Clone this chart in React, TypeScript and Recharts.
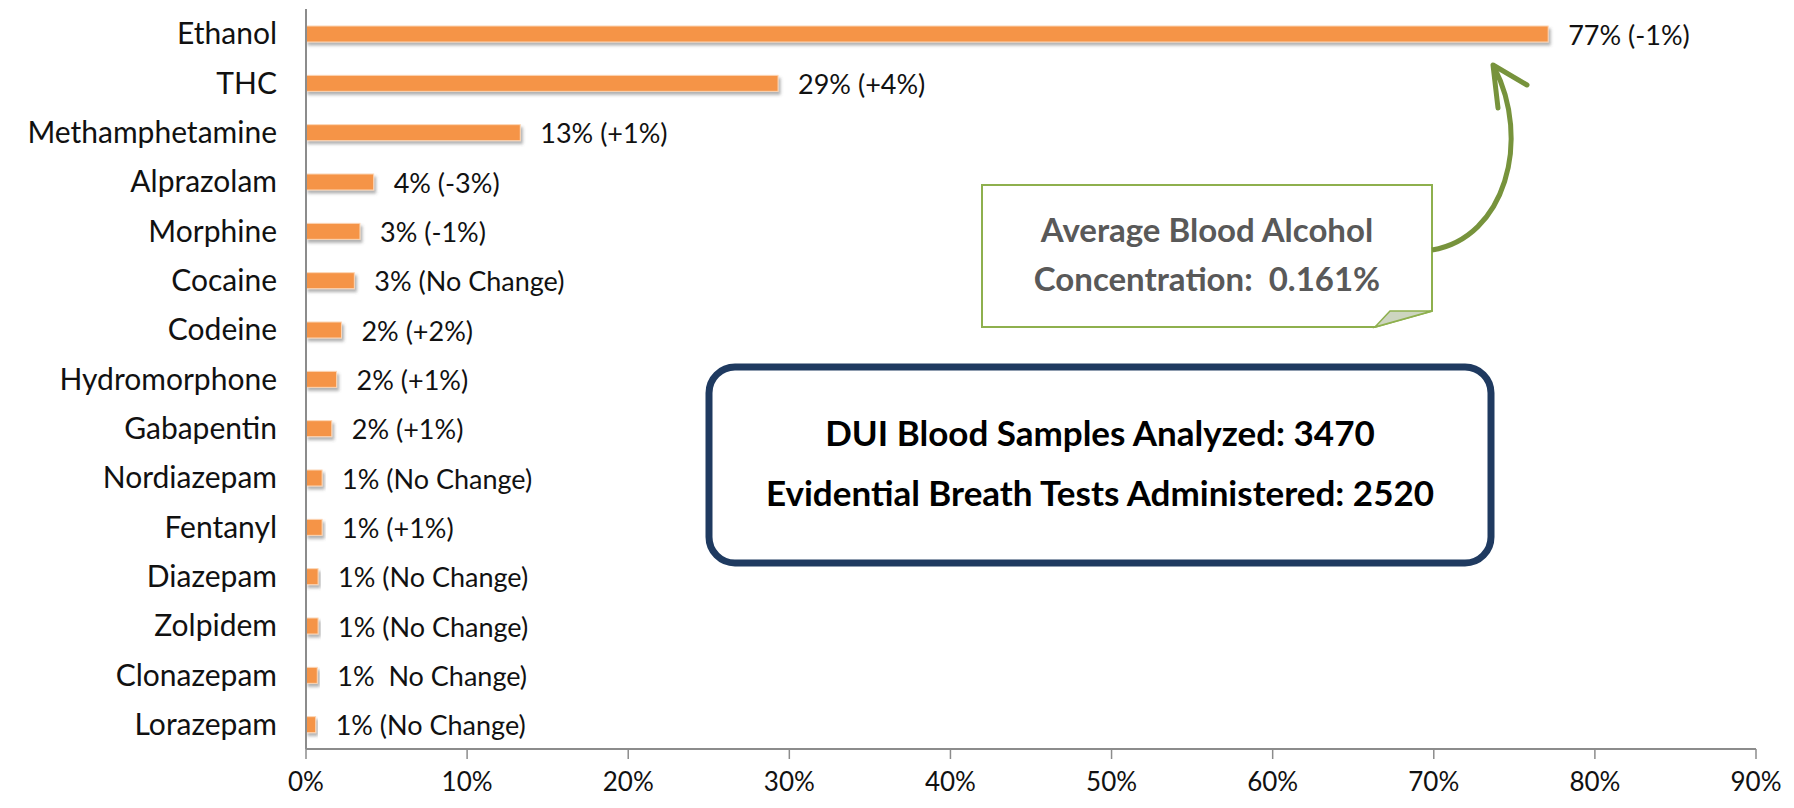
import { BarChart, Bar, XAxis, YAxis, LabelList } from 'recharts';

const drugs = [
  'Ethanol', 'THC', 'Methamphetamine', 'Alprazolam', 'Morphine', 'Cocaine', 'Codeine',
  'Hydromorphone', 'Gabapentin', 'Nordiazepam', 'Fentanyl', 'Diazepam', 'Zolpidem',
  'Clonazepam', 'Lorazepam',
];
const percents = [77.1, 29.3, 13.3, 4.2, 3.35, 3.0, 2.2, 1.9, 1.6, 1.0, 1.0, 0.75, 0.75, 0.7, 0.6];
const valueLabels = [
  '77% (-1%)', '29% (+4%)', '13% (+1%)', '4% (-3%)', '3% (-1%)', '3% (No Change)', '2% (+2%)',
  '2% (+1%)', '2% (+1%)', '1% (No Change)', '1% (+1%)', '1% (No Change)', '1% (No Change)',
  '1%  No Change)', '1% (No Change)',
];
const xTicks = [0, 10, 20, 30, 40, 50, 60, 70, 80, 90];

const data = drugs.map((name, i) => ({ name, pct: percents[i], label: valueLabels[i] }));

const FONT = 'Lato, "Open Sans", sans-serif';

export default function App() {
  return (
    <div style={{ position: 'absolute', left: 0, top: 0, width: 1794, height: 808, background: '#fff', fontFamily: FONT }}>
      <svg width={0} height={0} style={{ position: 'absolute' }}>
        <defs>
          <filter id="barShadow" x="-10%" y="-30%" width="130%" height="190%">
            <feDropShadow dx="2" dy="3" stdDeviation="1.6" floodColor="#555" floodOpacity="0.45" />
          </filter>
        </defs>
      </svg>
      <BarChart
        width={1794}
        height={808}
        data={data}
        layout="vertical"
        margin={{ top: 9, right: 38, bottom: 0, left: 0 }}
      >
        <XAxis
          type="number"
          domain={[0, 90]}
          ticks={xTicks}
          tickFormatter={(v: number) => `${v}%`}
          axisLine={{ stroke: '#8c8c8c', strokeWidth: 2 }}
          tickLine={{ stroke: '#8c8c8c', strokeWidth: 1.5 }}
          tickSize={10}
          tickMargin={14}
          height={59}
          tick={{ fill: '#111', fontSize: 26, fontFamily: FONT }}
        />
        <YAxis
          type="category"
          dataKey="name"
          width={306}
          axisLine={{ stroke: '#8c8c8c', strokeWidth: 2 }}
          tickLine={false}
          tickSize={0}
          tickMargin={29}
          interval={0}
          tick={{ fill: '#111', fontSize: 30, fontFamily: FONT }}
        />
        <Bar
          dataKey="pct"
          barSize={16}
          isAnimationActive={false}
          shape={(p: any) => (
            <rect
              x={p.x}
              y={p.y}
              width={Math.max(p.width, 0)}
              height={p.height}
              fill="#F59446"
              stroke="#FCD6B6"
              strokeWidth={1}
              filter="url(#barShadow)"
            />
          )}
        >
          <LabelList
            dataKey="label"
            content={(p: any) => (
              <text
                x={p.x + p.width + 20}
                y={p.y + p.height / 2}
                dominantBaseline="central"
                fontSize={27}
                fontFamily={FONT}
                fill="#111"
                style={{ whiteSpace: 'pre' }}
              >
                {p.value}
              </text>
            )}
          />
        </Bar>
      </BarChart>

      <svg
        width={1794}
        height={808}
        style={{ position: 'absolute', left: 0, top: 0, pointerEvents: 'none' }}
      >
        {/* callout note */}
        <path
          d="M982 185 L1432 185 L1432 311 L1375 327 L982 327 Z"
          fill="#fff"
          stroke="#8EB04E"
          strokeWidth={2}
        />
        <path d="M1375 327 L1390 311 L1432 311 Z" fill="#CDD5C0" stroke="#8EB04E" strokeWidth={1.5} />
        <text x={1207} y={229} textAnchor="middle" dominantBaseline="central" fontSize={33} fontWeight={700} fill="#595959" fontFamily={FONT}>
          Average Blood Alcohol
        </text>
        <text x={1207} y={278} textAnchor="middle" dominantBaseline="central" fontSize={33} fontWeight={700} fill="#595959" fontFamily={FONT} style={{ whiteSpace: 'pre' }}>
          {'Concentration:  0.161%'}
        </text>
        {/* arrow */}
        <path d="M1432 250 C1505 238 1532 140 1494 67" fill="none" stroke="#77933C" strokeWidth={5} />
        <path d="M1527 85 L1493 65 L1498 108" fill="none" stroke="#77933C" strokeWidth={5} strokeLinecap="round" strokeLinejoin="round" />

        {/* summary box */}
        <rect x={709} y={367} width={782} height={196} rx={26} ry={26} fill="#fff" stroke="#1F3A60" strokeWidth={7} />
        <text x={1100} y={432} textAnchor="middle" dominantBaseline="central" fontSize={35} fontWeight={700} fill="#000" fontFamily={FONT}>
          DUI Blood Samples Analyzed: 3470
        </text>
        <text x={1100} y={492} textAnchor="middle" dominantBaseline="central" fontSize={35} fontWeight={700} fill="#000" fontFamily={FONT}>
          Evidential Breath Tests Administered: 2520
        </text>
      </svg>
    </div>
  );
}
